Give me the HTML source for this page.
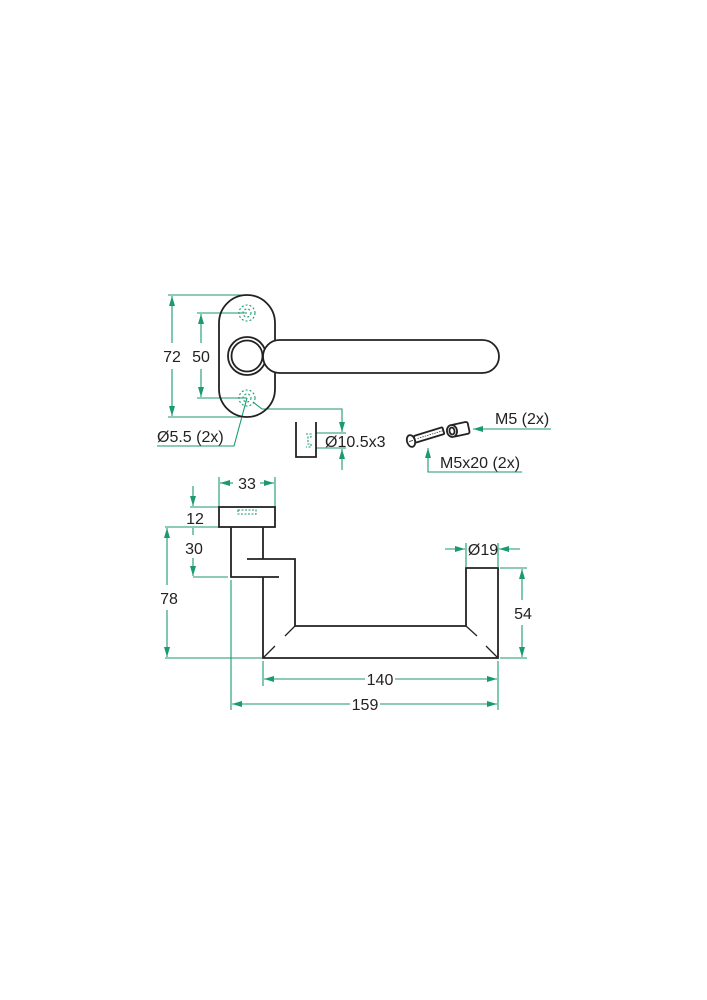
<!DOCTYPE html>
<html><head><meta charset="utf-8"><style>
html,body{margin:0;padding:0;background:#fff;}
svg{display:block;}
text{font-family:"Liberation Sans",sans-serif;font-size:16px;fill:#222;}
</style></head><body>
<svg width="707" height="1000" viewBox="0 0 707 1000" xmlns="http://www.w3.org/2000/svg">
<defs>
<marker id="a" viewBox="0 0 10 6" refX="10" refY="3" markerWidth="11" markerHeight="6" orient="auto-start-reverse" markerUnits="userSpaceOnUse">
<path d="M0,0 L10,3 L0,6 Z" fill="#1a9a6e"/></marker>
</defs>
<g stroke="#1a9a6e" stroke-width="1.1" fill="none">
<line x1="168" y1="295" x2="247" y2="295"/><line x1="168" y1="417" x2="250" y2="417"/>
<line x1="172" y1="343" x2="172" y2="296" marker-end="url(#a)"/>
<line x1="172" y1="369" x2="172" y2="416" marker-end="url(#a)"/>
<line x1="197" y1="313" x2="247" y2="313"/><line x1="197" y1="398" x2="247" y2="398"/>
<line x1="201" y1="343" x2="201" y2="314" marker-end="url(#a)"/>
<line x1="201" y1="369" x2="201" y2="397" marker-end="url(#a)"/>
<polyline points="247,398 234,446 157,446"/>
<polyline points="253,402 262,409 342,409 342,432" marker-end="url(#a)"/>
<line x1="316" y1="433" x2="346" y2="433"/><line x1="316" y1="448" x2="346" y2="448"/>
<line x1="342" y1="470" x2="342" y2="449" marker-end="url(#a)"/>
<line x1="551" y1="429" x2="473" y2="429" marker-end="url(#a)"/>
<polyline points="522,472 428,472 428,448" marker-end="url(#a)"/>
<circle cx="247" cy="313" r="8" stroke-dasharray="2,2"/><circle cx="247" cy="313" r="4" stroke-dasharray="2,2"/>
<circle cx="247" cy="398" r="8" stroke-dasharray="2,2"/><circle cx="247" cy="398" r="4" stroke-dasharray="2,2"/>
<path d="M306,434 h5 v3 h-3 v7 h3 v3 h-5" stroke-dasharray="2,1.5"/>
<line x1="219" y1="477" x2="219" y2="507"/><line x1="275" y1="477" x2="275" y2="507"/>
<line x1="233" y1="483" x2="220" y2="483" marker-end="url(#a)"/>
<line x1="260" y1="483" x2="274" y2="483" marker-end="url(#a)"/>
<line x1="190" y1="507" x2="219" y2="507"/><line x1="165" y1="527" x2="219" y2="527"/>
<line x1="193" y1="486" x2="193" y2="506" marker-end="url(#a)"/>
<line x1="193" y1="528" x2="193" y2="535"/>
<line x1="193" y1="558" x2="193" y2="576" marker-end="url(#a)"/>
<line x1="193" y1="577" x2="228" y2="577"/>
<line x1="167" y1="585" x2="167" y2="528" marker-end="url(#a)"/>
<line x1="167" y1="610" x2="167" y2="657" marker-end="url(#a)"/>
<line x1="165" y1="658" x2="262" y2="658"/>
<line x1="466" y1="543" x2="466" y2="567"/><line x1="498" y1="543" x2="498" y2="567"/>
<line x1="445" y1="549" x2="465" y2="549" marker-end="url(#a)"/>
<line x1="520" y1="549" x2="499" y2="549" marker-end="url(#a)"/>
<line x1="500" y1="568" x2="527" y2="568"/><line x1="500" y1="658" x2="527" y2="658"/>
<line x1="522" y1="600" x2="522" y2="569" marker-end="url(#a)"/>
<line x1="522" y1="625" x2="522" y2="657" marker-end="url(#a)"/>
<line x1="263" y1="661" x2="263" y2="686"/><line x1="498" y1="661" x2="498" y2="710"/>
<line x1="231" y1="580" x2="231" y2="710"/>
<line x1="365" y1="679" x2="264" y2="679" marker-end="url(#a)"/>
<line x1="395" y1="679" x2="497" y2="679" marker-end="url(#a)"/>
<line x1="350" y1="704" x2="232" y2="704" marker-end="url(#a)"/>
<line x1="380" y1="704" x2="497" y2="704" marker-end="url(#a)"/>
<rect x="238" y="510" width="18" height="4" stroke-dasharray="2,1.5"/>
</g>
<g stroke="#222" stroke-width="1.8" fill="none">
<rect x="219" y="295" width="56" height="122" rx="28"/>
<circle cx="247" cy="356" r="19" fill="#fff"/><circle cx="247" cy="356" r="15.5"/>
<rect x="263" y="340" width="236" height="33" rx="16.5" fill="#fff"/>
<path d="M296,422 V457 H316 V422"/>
<g transform="rotate(-17 411 441)">
<rect x="415" y="437" width="30" height="7" rx="1"/>
<line x1="418" y1="440.5" x2="444" y2="440.5" stroke-width="0.7" stroke-dasharray="1.5,1"/>
<ellipse cx="411" cy="441" rx="4" ry="6" fill="#fff"/>
<line x1="409" y1="441" x2="413" y2="441" stroke-width="0.8"/>
</g>
<g transform="rotate(-12 452 431)">
<rect x="452" y="425" width="17" height="12" rx="2" fill="#fff"/>
<ellipse cx="452" cy="431" rx="5" ry="6" fill="#fff"/>
<ellipse cx="452" cy="431" rx="2.5" ry="3.5"/>
</g>
<rect x="219" y="507" width="56" height="20"/>
<path d="M231,527 V577 H279"/>
<path d="M263,527 V559"/>
<path d="M247,559 H295 V626 H466 V568 H498 V658 H263 V577"/>
<path d="M263,658 L275,646 M295,626 L285,636 M466,626 L477,636 M498,658 L486,646" stroke-width="1.3"/>
</g>
<text x="172" y="362" text-anchor="middle">72</text>
<text x="201" y="362" text-anchor="middle">50</text>
<text x="157" y="442">Ø5.5 (2x)</text>
<text x="325" y="447">Ø10.5x3</text>
<text x="495" y="424">M5 (2x)</text>
<text x="440" y="468">M5x20 (2x)</text>
<text x="247" y="489" text-anchor="middle">33</text>
<text x="195" y="524" text-anchor="middle">12</text>
<text x="194" y="554" text-anchor="middle">30</text>
<text x="169" y="604" text-anchor="middle">78</text>
<text x="483" y="555" text-anchor="middle">Ø19</text>
<text x="523" y="619" text-anchor="middle">54</text>
<text x="380" y="685" text-anchor="middle">140</text>
<text x="365" y="710" text-anchor="middle">159</text>
</svg>
</body></html>
